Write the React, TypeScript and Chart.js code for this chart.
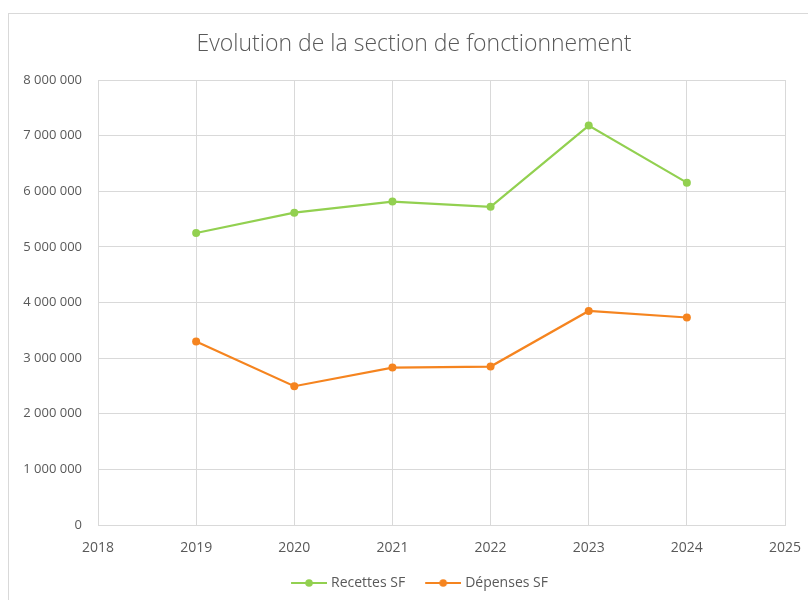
import React, { useEffect, useRef } from "react";
import { Chart, registerables } from "chart.js";

Chart.register(...registerables);

const years = [2019, 2020, 2021, 2022, 2023, 2024];
const recettes = [5250000, 5615000, 5815000, 5720000, 7180000, 6155000];
const depenses = [3300000, 2495000, 2830000, 2848000, 3848000, 3730000];
const seriesNames = ["Recettes SF", "Dépenses SF"];
const title = "Evolution de la section de fonctionnement";

const GREEN = "#92D050";
const ORANGE = "#F5841F";
const FONT = "'Open Sans', sans-serif";
const TEXT = "#595959";
const GRID = "#D9D9D9";

const BOX = 44;
const MARGIN = 11;

function legendIcon(color: string): HTMLCanvasElement {
  const c = document.createElement("canvas");
  c.width = BOX + 6;
  c.height = 10;
  const ctx = c.getContext("2d")!;
  const x0 = MARGIN + 3;
  ctx.strokeStyle = color;
  ctx.lineWidth = 2;
  ctx.beginPath();
  ctx.moveTo(x0, 5);
  ctx.lineTo(x0 + 36, 5);
  ctx.stroke();
  ctx.fillStyle = color;
  ctx.beginPath();
  ctx.arc(x0 + 18, 5, 3.8, 0, Math.PI * 2);
  ctx.fill();
  return c;
}

function fmt(v: number): string {
  return String(Math.round(v)).replace(/\B(?=(\d{3})+(?!\d))/g, " ");
}

export default function App() {
  const ref = useRef<HTMLCanvasElement | null>(null);

  useEffect(() => {
    if (!ref.current) return;
    const icons = [legendIcon(GREEN), legendIcon(ORANGE)];
    const chart = new Chart(ref.current, {
      type: "line",
      data: {
        datasets: [
          {
            label: seriesNames[0],
            data: years.map((y, i) => ({ x: y, y: recettes[i] })),
            borderColor: GREEN,
            backgroundColor: GREEN,
            borderWidth: 2.2,
            pointRadius: 4,
            pointBorderWidth: 0,
            pointBackgroundColor: GREEN,
            tension: 0,
          },
          {
            label: seriesNames[1],
            data: years.map((y, i) => ({ x: y, y: depenses[i] })),
            borderColor: ORANGE,
            backgroundColor: ORANGE,
            borderWidth: 2.2,
            pointRadius: 4,
            pointBorderWidth: 0,
            pointBackgroundColor: ORANGE,
            tension: 0,
          },
        ],
      },
      options: {
        animation: false,
        responsive: false,
        maintainAspectRatio: false,
        layout: { padding: 0 },
        scales: {
          x: {
            type: "linear",
            min: 2018,
            max: 2025,
            ticks: {
              stepSize: 1,
              padding: 15,
              color: TEXT,
              font: { family: FONT, size: 14 },
              callback: (v: any) => String(v),
            },
            grid: { color: GRID, drawTicks: false, lineWidth: 1 },
            border: { color: GRID },
            afterFit: (s: any) => {
              s.height = 42;
            },
          },
          y: {
            min: 0,
            max: 8000000,
            ticks: {
              stepSize: 1000000,
              padding: 16,
              color: TEXT,
              font: { family: FONT, size: 13 },
              callback: (v: any) => fmt(Number(v)),
            },
            grid: { color: GRID, drawTicks: false, lineWidth: 1 },
            border: { color: GRID },
            afterFit: (s: any) => {
              s.width = 89;
            },
          },
          yRight: {
            type: "linear",
            position: "right",
            display: true,
            min: 0,
            max: 1,
            ticks: { display: false },
            grid: { display: false, drawTicks: false },
            border: { display: false },
            afterFit: (s: any) => {
              s.width = 34;
            },
          },
        },
        plugins: {
          title: {
            display: true,
            text: title,
            color: TEXT,
            font: { family: FONT, size: 23, weight: 300 as any, lineHeight: 1.2 },
            padding: { top: 16.5, bottom: 21.9 },
          },
          legend: {
            position: "bottom",
            labels: {
              usePointStyle: true,
              pointStyleWidth: BOX,
              padding: 9,
              color: TEXT,
              font: { family: FONT, size: 14 },
              generateLabels: (c: any) => {
                const items = Chart.defaults.plugins.legend.labels.generateLabels(c);
                return items.map((it: any, i: number) => ({ ...it, pointStyle: icons[i] }));
              },
            },
          },
          tooltip: { enabled: false },
        },
      },
    });
    return () => chart.destroy();
  }, []);

  return (
    <div
      style={{
        position: "fixed",
        left: 8,
        top: 13,
        width: 800,
        height: 587,
        borderLeft: "1px solid #D9D9D9",
        borderTop: "1px solid #D9D9D9",
        overflow: "hidden",
        background: "#fff",
      }}
    >
      <canvas ref={ref} width={810} height={586} style={{ display: "block" }} />
    </div>
  );
}
